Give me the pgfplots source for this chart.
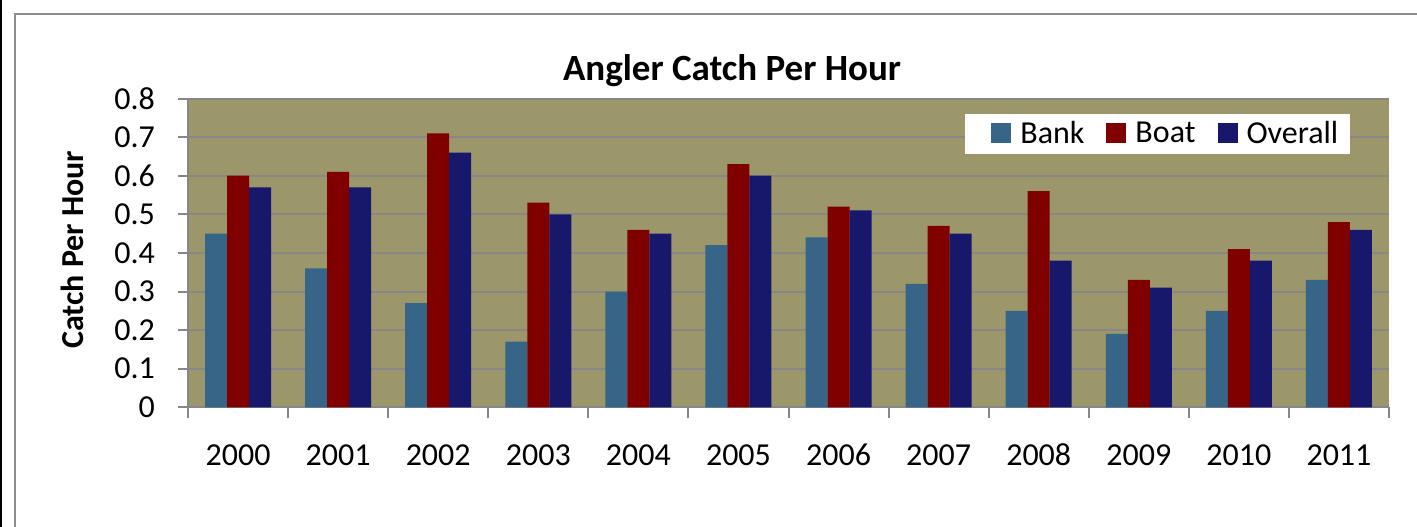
\documentclass[border=0pt]{standalone}
\usepackage{pgfplots}
\pgfplotsset{compat=1.18}
\usepackage{fontspec}
\setmainfont{Carlito}
\definecolor{bankc}{HTML}{366587}
\definecolor{boatc}{HTML}{800000}
\definecolor{overc}{HTML}{17176B}
\definecolor{khaki}{HTML}{9C966B}
\definecolor{gridc}{HTML}{878787}
\definecolor{framec}{HTML}{8C8C8C}
\newcommand\tf{\fontsize{16bp}{19bp}\selectfont}
\begin{document}
\begin{tikzpicture}
\useasboundingbox (0,0) rectangle (708.5bp,263.5bp);
\fill[white] (0,0) rectangle (708.5bp,263.5bp);
\fill[black] (0,0) rectangle (1.2bp,263.5bp);
\draw[framec, line width=1.2bp] (7.6bp,0) -- (7.6bp,256.5bp) -- (708.5bp,256.5bp);
\begin{axis}[
  at={(94bp,59.85bp)}, anchor=south west,
  scale only axis, width=600.5bp, height=154.4bp,
  xmin=-0.5, xmax=11.5, ymin=0, ymax=0.8,
  axis background/.style={fill=khaki},
  ybar=0pt, bar width=11bp,
  axis x line*=bottom, axis y line*=left,
  axis line style={gridc, line width=1bp, -},
  xtick={0,...,11},
  xticklabels={2000,2001,2002,2003,2004,2005,2006,2007,2008,2009,2010,2011},
  major x tick style={draw=none},
  minor xtick={-0.5,0.5,...,11.5},
  minor x tick style={gridc, line width=1bp},
  minor tick length=5.5bp,
  ytick={0,0.1,...,0.8},
  yticklabels={0,0.1,0.2,0.3,0.4,0.5,0.6,0.7,0.8},
  major y tick style={gridc, line width=1bp},
  major tick length=5bp,
  tick align=outside,
  ymajorgrids, grid style={gridc, line width=1bp},
  tick label style={font=\tf, black},
  xticklabel style={yshift=-10bp, text height=10.5bp, text depth=0bp},
  yticklabel style={xshift=-8bp},
  title={\textbf{Angler Catch Per Hour}},
  title style={font=\fontsize{18.5bp}{22bp}\selectfont, at={(axis description cs:0.453,1.021)}, anchor=base},
  ylabel={\textbf{Catch Per Hour}},
  ylabel style={font=\tf, at={(axis description cs:-0.0966,0.51)}, anchor=center},
  legend columns=3,
  legend style={at={(rel axis cs:0.6686,0.886)}, anchor=west, draw=none, fill=none, font=\tf,
    inner sep=0pt,
    nodes={inner xsep=4.5bp},
    /tikz/every odd column/.append style={column sep=0bp},
    /tikz/every even column/.append style={column sep=6.5bp}},
  legend image code/.code={\path[#1, draw=none] (0bp,-4.5bp) rectangle (10bp,5.5bp);},
]
\fill[white] (rel axis cs:0.647,0.820) rectangle (rel axis cs:0.9675,0.950);
\addplot[fill=bankc, draw=none] coordinates {(0,0.45) (1,0.36) (2,0.27) (3,0.17) (4,0.30) (5,0.42) (6,0.44) (7,0.32) (8,0.25) (9,0.19) (10,0.25) (11,0.33)};
\addplot[fill=boatc, draw=none] coordinates {(0,0.60) (1,0.61) (2,0.71) (3,0.53) (4,0.46) (5,0.63) (6,0.52) (7,0.47) (8,0.56) (9,0.33) (10,0.41) (11,0.48)};
\addplot[fill=overc, draw=none] coordinates {(0,0.57) (1,0.57) (2,0.66) (3,0.50) (4,0.45) (5,0.60) (6,0.51) (7,0.45) (8,0.38) (9,0.31) (10,0.38) (11,0.46)};
\legend{Bank,Boat,Overall}
\end{axis}
\end{tikzpicture}
\end{document}
